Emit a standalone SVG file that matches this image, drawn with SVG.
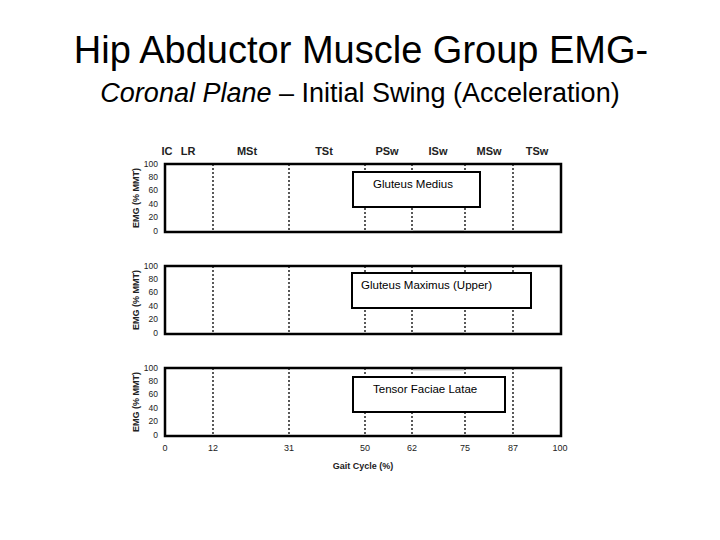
<svg xmlns="http://www.w3.org/2000/svg" width="720" height="540" viewBox="0 0 720 540">
<style>
.t{font-family:"Liberation Sans",Arial,sans-serif}
.frame{fill:none;stroke:#000;stroke-width:2.5}
.dl{stroke:#000;stroke-width:1.3;stroke-dasharray:2,2}
.tk{font-family:"Liberation Sans",Arial,sans-serif;font-size:8.5px;fill:#222;text-anchor:end}
.ph{font-family:"Liberation Sans",Arial,sans-serif;font-size:11px;font-weight:bold;fill:#222;text-anchor:middle}
.yl{font-family:"Liberation Sans",Arial,sans-serif;font-size:9px;font-weight:bold;fill:#222;text-anchor:middle}
.box{fill:#fff;stroke:#000;stroke-width:2}
.lab{font-family:"Liberation Sans",Arial,sans-serif;font-size:11.5px;fill:#000}
.gr{stroke:#bbb;stroke-width:1}
</style>
<rect width="720" height="540" fill="#fff"/>
<text class="t" x="361" y="63" font-size="38" text-anchor="middle">Hip Abductor Muscle Group EMG-</text>
<text class="t" x="360" y="102" font-size="27" text-anchor="middle"><tspan font-style="italic">Coronal Plane</tspan> – Initial Swing (Acceleration)</text>
<g id="phases">
<text class="ph" x="167" y="155">IC</text><text class="ph" x="188" y="155">LR</text><text class="ph" x="247" y="155">MSt</text><text class="ph" x="324" y="155">TSt</text><text class="ph" x="387" y="155">PSw</text><text class="ph" x="438" y="155">ISw</text><text class="ph" x="489" y="155">MSw</text><text class="ph" x="537" y="155">TSw</text>
</g>
<g id="panel1">
<g class="dl"><line x1="213" y1="164" x2="213" y2="232"/><line x1="289" y1="164" x2="289" y2="232"/><line x1="365" y1="164" x2="365" y2="232"/><line x1="412" y1="164" x2="412" y2="232"/><line x1="465" y1="164" x2="465" y2="232"/><line x1="513" y1="164" x2="513" y2="232"/></g>
<line class="gr" x1="413" y1="231" x2="464" y2="231"/>
<rect class="frame" x="165" y="164" width="396" height="68"/>
<g class="tk"><text x="158" y="167">100</text><text x="158" y="180">80</text><text x="158" y="193">60</text><text x="158" y="207">40</text><text x="158" y="220">20</text><text x="158" y="234">0</text></g>
<text class="yl" transform="translate(139,198) rotate(-90)">EMG (% MMT)</text>
<g id="n1"><rect class="box" x="353" y="172" width="127" height="35"/><text class="lab" x="373" y="188">Gluteus Medius</text></g>
</g>
<g id="panel2">
<g class="dl"><line x1="213" y1="266" x2="213" y2="334"/><line x1="289" y1="266" x2="289" y2="334"/><line x1="365" y1="266" x2="365" y2="334"/><line x1="412" y1="266" x2="412" y2="334"/><line x1="465" y1="266" x2="465" y2="334"/><line x1="513" y1="266" x2="513" y2="334"/></g>
<line class="gr" x1="413" y1="333" x2="464" y2="333"/>
<rect class="frame" x="165" y="266" width="396" height="68"/>
<g class="tk"><text x="158" y="269">100</text><text x="158" y="282">80</text><text x="158" y="295">60</text><text x="158" y="309">40</text><text x="158" y="322">20</text><text x="158" y="336">0</text></g>
<text class="yl" transform="translate(139,300) rotate(-90)">EMG (% MMT)</text>
<g id="n2"><rect class="box" x="352" y="273" width="179" height="35"/><text class="lab" x="361" y="289">Gluteus Maximus (Upper)</text></g>
</g>
<g id="panel3">
<g class="dl"><line x1="213" y1="368" x2="213" y2="436"/><line x1="289" y1="368" x2="289" y2="436"/><line x1="365" y1="368" x2="365" y2="436"/><line x1="412" y1="368" x2="412" y2="436"/><line x1="465" y1="368" x2="465" y2="436"/><line x1="513" y1="368" x2="513" y2="436"/></g>
<line class="gr" x1="413" y1="370" x2="464" y2="370"/>
<rect class="frame" x="165" y="368" width="396" height="68"/>
<g class="tk"><text x="158" y="371">100</text><text x="158" y="384">80</text><text x="158" y="397">60</text><text x="158" y="411">40</text><text x="158" y="424">20</text><text x="158" y="438">0</text></g>
<text class="yl" transform="translate(139,402) rotate(-90)">EMG (% MMT)</text>
<g id="n3"><rect class="box" x="353" y="377" width="152" height="35"/><text class="lab" x="373" y="393">Tensor Faciae Latae</text></g>
</g>
<g class="tk" style="text-anchor:middle;font-size:9px">
<text x="165" y="451">0</text><text x="213" y="451">12</text><text x="289" y="451">31</text><text x="365" y="451">50</text><text x="412" y="451">62</text><text x="465" y="451">75</text><text x="513" y="451">87</text><text x="560" y="451">100</text>
</g>
<text class="yl" x="363" y="469">Gait Cycle (%)</text>
</svg>
